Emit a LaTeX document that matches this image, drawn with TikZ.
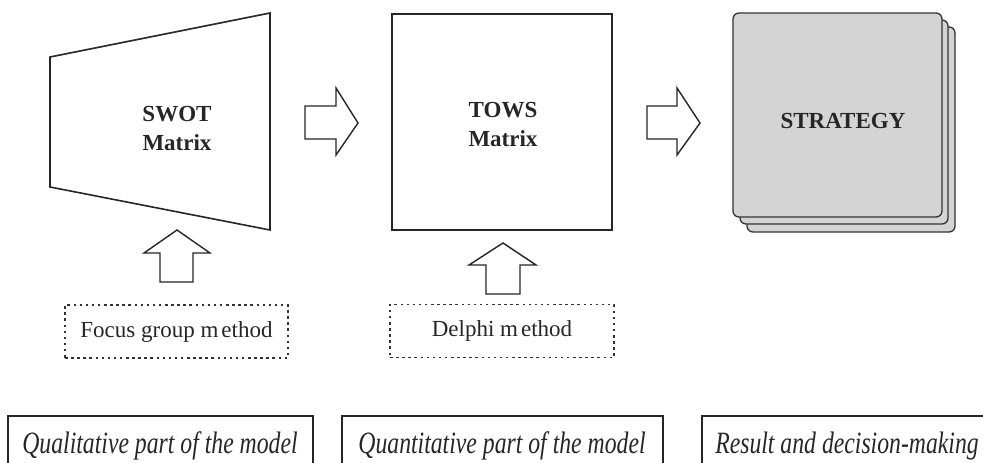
\documentclass[tikz,border=0pt]{standalone}
\usepackage{fontspec}
\setmainfont{Liberation Serif}
\usepackage{graphicx}
\begin{document}
\begin{tikzpicture}[x=1pt,y=-1pt,
  outline/.style={draw=black!85, line width=1.6pt, line join=miter},
  blockarrow/.style={draw=black!85, line width=1.4pt, fill=white, line join=miter},
  card/.style={draw=black!80, line width=1.3pt, fill=black!17, rounded corners=6pt},
  dotbox/.style={draw=black!80, line width=1.3pt, dash pattern=on 2.5pt off 3.6pt,
                 inner sep=0pt, minimum height=53pt},
  methodtext/.style={font=\fontsize{23}{29}\selectfont, text=black!85},
  title/.style={font=\fontsize{23}{29}\selectfont\bfseries, align=center, text=black!85},
  partbox/.style={draw=black!85, line width=1.3pt},
  parttext/.style={anchor=base, text=black!85, inner sep=0pt}
]
\useasboundingbox (0,0) rectangle (983,463);
\clip (0,0) rectangle (983,463);

% SWOT matrix (trapezoid)
\draw[outline] (50,57) -- (270,13) -- (270,230) -- (50,187) -- cycle;
\node[title] (swot) at (177,128) {SWOT\\Matrix};

% TOWS matrix (square)
\draw[outline] (392,14) rectangle (612,230);
\node[title] (tows) at (503,124) {TOWS\\Matrix};

% Strategy: stack of three cards
\draw[card] (747,27) rectangle (955,232);
\draw[card] (740,20) rectangle (948,224);
\draw[card] (733,13) rectangle (942,217);
\node[title] (strategy) at (843,121) {STRATEGY};

% Horizontal block arrows
\draw[blockarrow] (305,106) -- (336,106) -- (336,88) -- (358,123) -- (336,155)
  -- (336,139) -- (305,139) -- cycle;
\draw[blockarrow] (647,106) -- (677,106) -- (677,88) -- (700,123) -- (677,155)
  -- (677,139) -- (647,139) -- cycle;

% Vertical block arrows
\draw[blockarrow] (177,230) -- (210,253) -- (193,253) -- (193,282) -- (160,282)
  -- (160,253) -- (144,253) -- cycle;
\draw[blockarrow] (503,243) -- (536,265) -- (520,265) -- (520,294) -- (486,294)
  -- (486,265) -- (469,265) -- cycle;

% Methods
\node[dotbox, methodtext, minimum width=223pt] (focus) at (176.5,331.5)
  {Focus group m\kern3pt ethod};
\node[dotbox, methodtext, minimum width=224pt] (delphi) at (502,331)
  {Delphi m\kern3pt ethod};

% Parts of the model
\draw[partbox] (8,480) -- (8,416) -- (313,416) -- (313,480);
\draw[partbox] (342,480) -- (342,416) -- (663,416) -- (663,480);
\draw[partbox] (702,480) -- (702,416) -- (992,416) -- (992,480);
\node[parttext] (qual) at (160,453)
  {\scalebox{0.765}[1]{\fontsize{31}{36}\selectfont\itshape Qualitative part of the model}};
\node[parttext] (quant) at (502,453)
  {\scalebox{0.765}[1]{\fontsize{31}{36}\selectfont\itshape Quantitative part of the model}};
\node[parttext] (result) at (847,453)
  {\scalebox{0.765}[1]{\fontsize{31}{36}\selectfont\itshape Result and decision-making}};
\end{tikzpicture}
\end{document}
